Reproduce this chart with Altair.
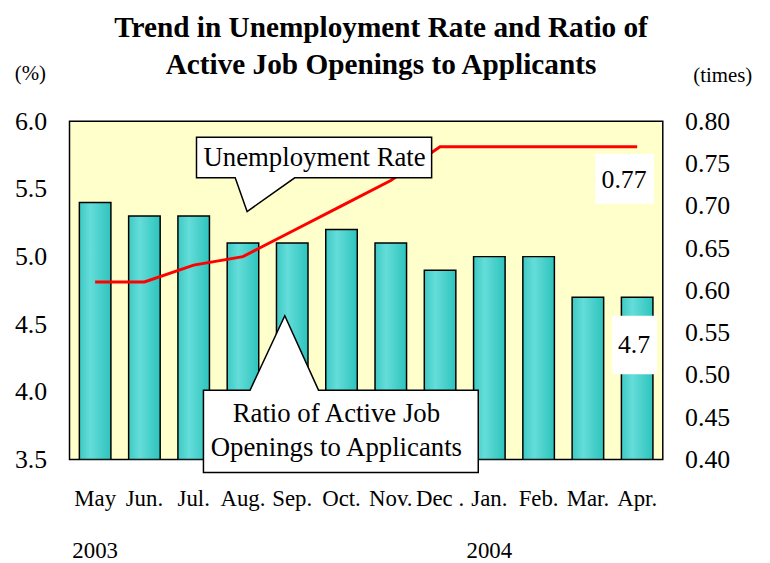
import altair as alt
import pandas as pd

months = ["May", "Jun.", "Jul.", "Aug.", "Sep.", "Oct.", "Nov.", "Dec .", "Jan.", "Feb.", "Mar.", "Apr."]
unemployment = [5.4, 5.3, 5.3, 5.1, 5.1, 5.2, 5.1, 4.9, 5.0, 5.0, 4.7, 4.7]
job_ratio = [0.61, 0.61, 0.63, 0.64, 0.67, 0.70, 0.73, 0.77, 0.77, 0.77, 0.77, 0.77]
year_months = ["May", "Jan."]
year_labels = ["2003", "2004"]
left_ticks = [3.5, 4.0, 4.5, 5.0, 5.5, 6.0]
right_ticks = [0.40, 0.45, 0.50, 0.55, 0.60, 0.65, 0.70, 0.75, 0.80]
title_lines = ["Trend in Unemployment Rate and Ratio of", "Active Job Openings to Applicants"]

FONT = "Liberation Serif"
df = pd.DataFrame({"month": months, "unemp": unemployment, "ratio": job_ratio})
years = pd.DataFrame({"month": year_months, "year": year_labels})
one = pd.DataFrame({"a": [0]})

xenc = alt.X("month:N", sort=months,
             scale=alt.Scale(domain=months, paddingInner=0.36, paddingOuter=0.2),
             axis=alt.Axis(title=None, labelAngle=0, ticks=False, domain=False,
                           labelFont=FONT, labelFontSize=23, labelPadding=28,
                           labelColor="black"))

grad = alt.Gradient(gradient="linear", x1=0, x2=1, y1=0, y2=0,
                    stops=[alt.GradientStop(color="#3ec9c4", offset=0),
                           alt.GradientStop(color="#64ddd9", offset=0.35),
                           alt.GradientStop(color="#2ec3bd", offset=1)])

bars = alt.Chart(df).mark_bar(color=grad, stroke="black", strokeWidth=1.5, clip=True).encode(
    x=xenc,
    y=alt.Y("unemp:Q", scale=alt.Scale(domain=[3.5, 6.0], nice=False, zero=False),
            axis=alt.Axis(values=left_ticks, format=".1f", grid=False, ticks=False,
                          domain=False, labelFont=FONT, labelFontSize=26,
                          labelPadding=23, labelColor="black",
                          title="(%)", titleAngle=0, titleFont=FONT, titleFontSize=21,
                          titleFontWeight="normal", titleX=-40, titleY=-48,
                          titleAlign="center", titleBaseline="middle")),
    y2=alt.datum(3.5),
)

line = alt.Chart(df).mark_line(color="#ff0000", strokeWidth=3).encode(
    x=alt.X("month:N", sort=months, scale=alt.Scale(domain=months)),
    y=alt.Y("ratio:Q", scale=alt.Scale(domain=[0.4, 0.8], nice=False, zero=False),
            axis=alt.Axis(orient="right", values=right_ticks, format=".2f", grid=False,
                          ticks=False, domain=False, labelFont=FONT, labelFontSize=26,
                          labelPadding=22, labelColor="black",
                          title="(times)", titleAngle=0, titleFont=FONT, titleFontSize=21,
                          titleFontWeight="normal", titleX=60, titleY=-46,
                          titleAlign="center", titleBaseline="middle"))
)

callout1_path = "M128,16 L365,16 L365,57 L227,57 L179,91 L167,57 L128,57 Z"
callout2_path = "M135,271 L182,271 L217,196 L251,271 L412,271 L412,354 L135,354 Z"

def callout(path):
    return alt.Chart(one).mark_point(shape=path, size=4, fill="white", stroke="black",
                                     strokeWidth=1.5, opacity=1, fillOpacity=1,
                                     strokeOpacity=1).encode(
        x=alt.value(0), y=alt.value(0))

c1 = callout(callout1_path)
c2 = callout(callout2_path)

t1 = alt.Chart(one).mark_text(text="Unemployment Rate", font=FONT, fontSize=27,
                              color="black", align="center", baseline="middle").encode(
    x=alt.value(247), y=alt.value(37))
t2 = alt.Chart(one).mark_text(text=["Ratio of Active Job", "Openings to Applicants"],
                              font=FONT, fontSize=27, lineHeight=34, color="black",
                              align="center", baseline="middle").encode(
    x=alt.value(269), y=alt.value(295))

box77 = alt.Chart(one).mark_rect(color="white").encode(
    x=alt.value(530), x2=alt.value(589), y=alt.value(33), y2=alt.value(83))
txt77 = alt.Chart(one).mark_text(text="0.77", font=FONT, fontSize=26, color="black",
                                 align="center", baseline="middle").encode(
    x=alt.value(559), y=alt.value(59))
box47 = alt.Chart(one).mark_rect(color="white").encode(
    x=alt.value(547), x2=alt.value(592), y=alt.value(196), y2=alt.value(255))
txt47 = alt.Chart(one).mark_text(text="4.7", font=FONT, fontSize=26, color="black",
                                 align="center", baseline="middle").encode(
    x=alt.value(569), y=alt.value(226))

yr = alt.Chart(years).mark_text(font=FONT, fontSize=23, color="black",
                                align="center", baseline="middle").encode(
    x=alt.X("month:N", sort=months, scale=alt.Scale(domain=months)),
    y=alt.value(433),
    text="year:N")

title = alt.Chart(one).mark_text(text=title_lines, font=FONT, fontSize=29.5,
                                 fontWeight="bold", color="black", lineHeight=37,
                                 align="center", baseline="alphabetic").encode(
    x=alt.value(314), y=alt.value(-85))

chart = alt.layer(bars, line, c1, c2, t1, t2, box77, txt77, box47, txt47, yr, title).resolve_scale(
    y="independent"
).properties(
    width=598, height=341,
    autosize=alt.AutoSizeParams(type="none"),
    padding={"left": 62, "top": 112, "right": 100, "bottom": 102},
).configure(
    background="white"
).configure_view(
    fill="#ffffcc", stroke="black", strokeWidth=1.5
)

chart.save("out.html", embed_options={"renderer": "svg", "actions": False})
